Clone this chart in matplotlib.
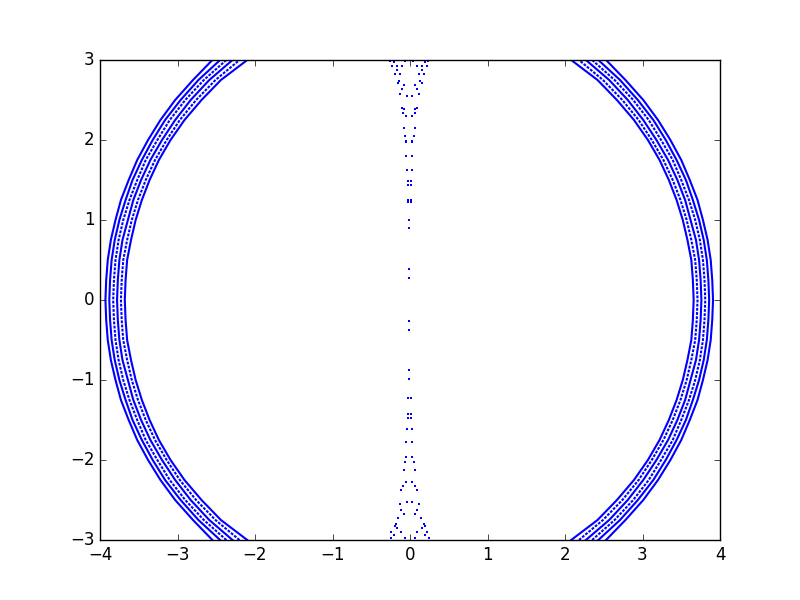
import numpy as np
import matplotlib
matplotlib.use("Agg")
import matplotlib.pyplot as plt

plt.style.use("classic")

arc_y = [-3, -2.75, -2.5, -2.25, -2, -1.75, -1.5, -1.25, -1, -0.75, -0.5, -0.25, 0,
         0.25, 0.5, 0.75, 1, 1.25, 1.5, 1.75, 2, 2.25, 2.5, 2.75, 3]

# right-hand arcs (x at arc_y), inner to outer
right_1 = [2.08, 2.42, 2.67, 2.89, 3.07, 3.22, 3.34, 3.44, 3.52, 3.58, 3.63, 3.65, 3.66,
           3.65, 3.63, 3.58, 3.52, 3.44, 3.34, 3.22, 3.07, 2.89, 2.67, 2.42, 2.08]
right_2 = [2.18, 2.49, 2.74, 2.95, 3.12, 3.27, 3.39, 3.49, 3.57, 3.63, 3.68, 3.70, 3.71,
           3.70, 3.68, 3.63, 3.57, 3.49, 3.39, 3.27, 3.12, 2.95, 2.74, 2.49, 2.18]
right_3 = [2.27, 2.57, 2.81, 3.01, 3.18, 3.33, 3.45, 3.55, 3.62, 3.69, 3.73, 3.75, 3.76,
           3.75, 3.73, 3.69, 3.62, 3.55, 3.45, 3.33, 3.18, 3.01, 2.81, 2.57, 2.27]
right_4 = [2.35, 2.64, 2.88, 3.08, 3.24, 3.39, 3.50, 3.60, 3.68, 3.74, 3.78, 3.80, 3.81,
           3.80, 3.78, 3.74, 3.68, 3.60, 3.50, 3.39, 3.24, 3.08, 2.88, 2.64, 2.35]
right_5 = [2.43, 2.71, 2.94, 3.14, 3.30, 3.44, 3.56, 3.65, 3.73, 3.79, 3.83, 3.85, 3.86,
           3.85, 3.83, 3.79, 3.73, 3.65, 3.56, 3.44, 3.30, 3.14, 2.94, 2.71, 2.43]
right_6 = [2.53, 2.78, 3.01, 3.20, 3.36, 3.50, 3.61, 3.71, 3.78, 3.84, 3.88, 3.90, 3.91,
           3.90, 3.88, 3.84, 3.78, 3.71, 3.61, 3.50, 3.36, 3.20, 3.01, 2.78, 2.53]

# left-hand arcs
left_1 = [-2.10, -2.44, -2.69, -2.91, -3.09, -3.24, -3.36, -3.46, -3.54, -3.60, -3.65, -3.67, -3.68,
          -3.67, -3.65, -3.60, -3.54, -3.46, -3.36, -3.24, -3.09, -2.91, -2.69, -2.44, -2.10]
left_2 = [-2.20, -2.51, -2.76, -2.97, -3.14, -3.29, -3.41, -3.51, -3.59, -3.65, -3.70, -3.72, -3.73,
          -3.72, -3.70, -3.65, -3.59, -3.51, -3.41, -3.29, -3.14, -2.97, -2.76, -2.51, -2.20]
left_3 = [-2.29, -2.59, -2.83, -3.03, -3.20, -3.35, -3.47, -3.57, -3.64, -3.71, -3.75, -3.77, -3.78,
          -3.77, -3.75, -3.71, -3.64, -3.57, -3.47, -3.35, -3.20, -3.03, -2.83, -2.59, -2.29]
left_4 = [-2.37, -2.66, -2.90, -3.10, -3.26, -3.41, -3.52, -3.62, -3.70, -3.76, -3.80, -3.82, -3.83,
          -3.82, -3.80, -3.76, -3.70, -3.62, -3.52, -3.41, -3.26, -3.10, -2.90, -2.66, -2.37]
left_5 = [-2.45, -2.73, -2.96, -3.16, -3.32, -3.46, -3.58, -3.67, -3.75, -3.81, -3.85, -3.87, -3.88,
          -3.87, -3.85, -3.81, -3.75, -3.67, -3.58, -3.46, -3.32, -3.16, -2.96, -2.73, -2.45]
left_6 = [-2.55, -2.80, -3.03, -3.22, -3.38, -3.52, -3.63, -3.73, -3.80, -3.86, -3.90, -3.92, -3.93,
          -3.92, -3.90, -3.86, -3.80, -3.73, -3.63, -3.52, -3.38, -3.22, -3.03, -2.80, -2.55]

# scattered points near x = 0
mid_x = [-0.26, -0.06, 0.04, 0.23, -0.21, 0.19, -0.17, 0.15, -0.23, -0.10, 0.09, 0.22,
         -0.17, 0.15, -0.19, -0.13, 0.12, 0.18, -0.14, 0.13, -0.16, -0.08, 0.06, 0.15,
         -0.10, 0.09, -0.13, 0.12, -0.04, 0.02, -0.10, 0.09, -0.08, 0.06, -0.09, 0.07,
         -0.05, 0.03, -0.08, 0.06, -0.07, 0.05, -0.05, 0.03, -0.05, 0.03, -0.05, 0.03,
         -0.04, 0.02, -0.03, 0.01, -0.03, 0.01, -0.03, 0.01, -0.03, 0.01, -0.01, -0.01,
         -0.01, -0.01,
         -0.01, -0.01, -0.01, -0.01, -0.03, 0.01, -0.03, 0.01, -0.03, 0.01, -0.04, 0.02,
         -0.05, 0.03, -0.05, 0.03, -0.07, 0.05, -0.08, 0.06, -0.05, 0.03, -0.09, 0.07,
         -0.11, 0.09, -0.13, 0.12, -0.04, 0.02, -0.11, 0.09, -0.08, 0.06, -0.15, 0.14,
         -0.18, 0.18, -0.19, 0.19, -0.17, 0.15, -0.24, 0.22, -0.11, 0.09, -0.25, 0.24,
         -0.21, 0.19, -0.07, 0.06]
mid_y = [2.99, 2.99, 2.99, 2.99, 2.97, 2.97, 2.93, 2.93, 2.92, 2.92, 2.92, 2.92,
         2.87, 2.87, 2.83, 2.83, 2.83, 2.83, 2.74, 2.74, 2.71, 2.69, 2.69, 2.71,
         2.64, 2.64, 2.57, 2.57, 2.55, 2.55, 2.40, 2.40, 2.39, 2.39, 2.34, 2.34,
         2.30, 2.30, 2.15, 2.15, 2.05, 2.05, 1.99, 1.99, 1.97, 1.97, 1.80, 1.80,
         1.63, 1.63, 1.49, 1.49, 1.44, 1.44, 1.25, 1.25, 1.23, 1.23, 1.00, 0.90,
         0.39, 0.28,
         -0.26, -0.38, -0.88, -0.99, -1.22, -1.22, -1.43, -1.43, -1.47, -1.47, -1.61, -1.61,
         -1.78, -1.78, -1.96, -1.96, -2.03, -2.03, -2.13, -2.13, -2.28, -2.28, -2.32, -2.32,
         -2.38, -2.38, -2.55, -2.55, -2.53, -2.53, -2.62, -2.62, -2.67, -2.67, -2.72, -2.72,
         -2.80, -2.80, -2.83, -2.83, -2.85, -2.85, -2.90, -2.90, -2.90, -2.90, -2.97, -2.97,
         -2.94, -2.94, -2.98, -2.98]

fig = plt.figure(figsize=(8, 6), dpi=100)
ax = fig.add_subplot(111)

arcs = [right_1, right_2, right_3, right_4, right_5, right_6,
        left_1, left_2, left_3, left_4, left_5, left_6]
styles = ["-", (0, (2, 1)), "-", (0, (2, 1)), "-", "-"] * 2
for xs, ls in zip(arcs, styles):
    ax.plot(xs, arc_y, color="b", linestyle=ls, linewidth=1.5)

ax.plot(mid_x, mid_y, "bs", markersize=2, markeredgewidth=0)

ax.set_xlim(-4, 4)
ax.set_ylim(-3, 3)

fig.savefig("out.png", dpi=100)
